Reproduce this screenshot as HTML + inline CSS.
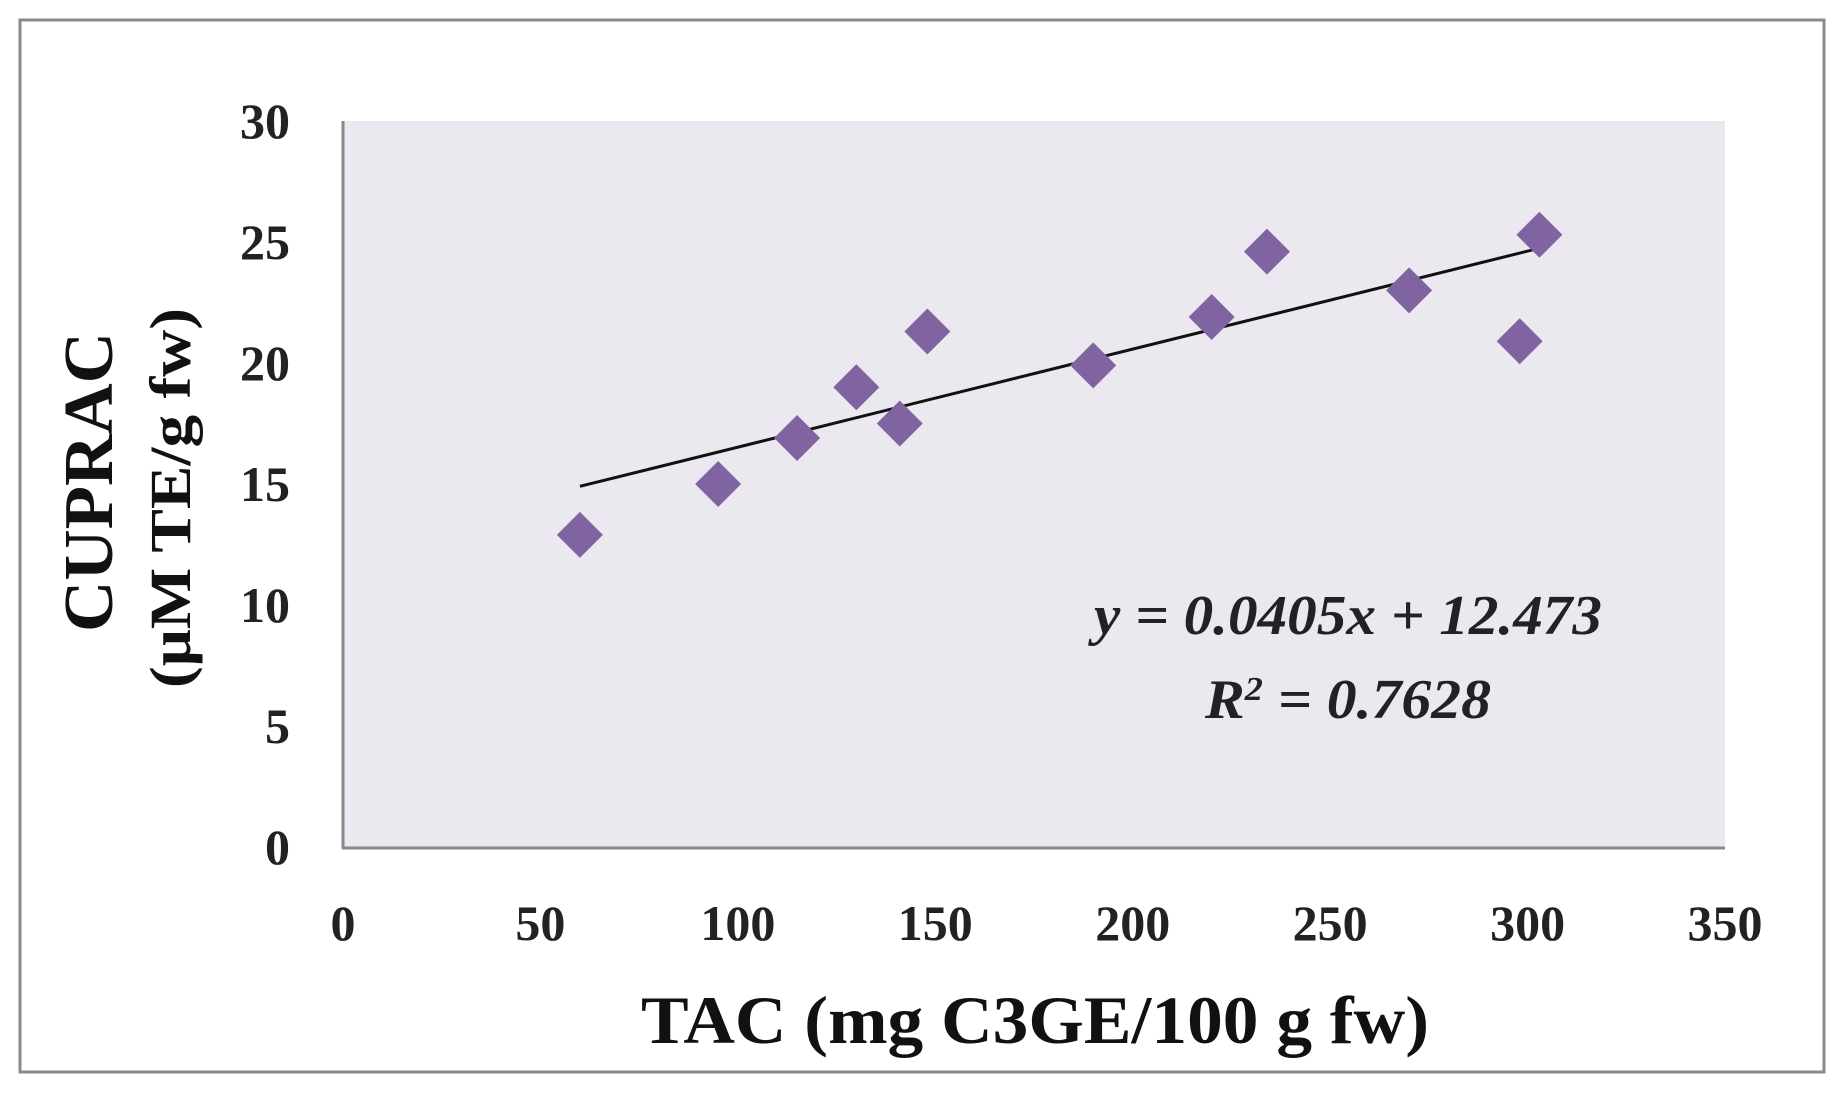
<!DOCTYPE html>
<html><head><meta charset="utf-8"><style>
html,body{margin:0;padding:0;background:#fff;}
svg{display:block;font-family:"Liberation Serif",serif;}
</style></head><body>
<svg width="1843" height="1098" viewBox="0 0 1843 1098">
<rect x="20" y="20" width="1804" height="1052" fill="#fff" stroke="#8a8a8a" stroke-width="3"/>
<rect x="343" y="121" width="1382" height="726" fill="#ebe9ef"/>
<line x1="343" y1="121" x2="343" y2="849" stroke="#8a8a8a" stroke-width="3"/>
<line x1="342" y1="848" x2="1725" y2="848" stroke="#8a8a8a" stroke-width="3"/>
<g id="xt"></g>
<g id="yt"></g>
<g id="trend"></g>
<g id="pts"></g>
<text x="1094" y="634" textLength="508" lengthAdjust="spacingAndGlyphs" font-size="56" font-weight="bold" font-style="italic" fill="#222">y = 0.0405x + 12.473</text>
<text x="1205" y="718" textLength="286" lengthAdjust="spacingAndGlyphs" font-size="56" font-weight="bold" font-style="italic" fill="#222">R<tspan font-size="34" dy="-18">2</tspan><tspan dy="18"> = 0.7628</tspan></text>
<text x="641" y="1043" textLength="788" lengthAdjust="spacingAndGlyphs" font-size="68" font-weight="bold" fill="#111">TAC (mg C3GE/100 g fw)</text>
<text transform="translate(112,632) rotate(-90)" textLength="300" lengthAdjust="spacingAndGlyphs" font-size="70" font-weight="bold" fill="#111">CUPRAC</text>
<text transform="translate(190,688) rotate(-90)" textLength="380" lengthAdjust="spacingAndGlyphs" font-size="58" font-weight="bold" fill="#111">(μM TE/g fw)</text>
</svg>
<script>
const xValues=[60,95,115,130,141,148,190,220,234,270,298,303];
const yValues=[12.9,15,16.9,19,17.5,21.3,19.9,21.9,24.6,23,20.9,25.3];
const xTicks=[0,50,100,150,200,250,300,350];
const yTicks=[0,5,10,15,20,25,30];
const slope=0.0405, intercept=12.473;
const NS='http://www.w3.org/2000/svg';
function sx(v){return 343+v*(1725-343)/350;}
function sy(v){return 847-v*(847-121)/30;}
function mk(t,a){const e=document.createElementNS(NS,t);for(const k in a)e.setAttribute(k,a[k]);return e;}
const xt=document.getElementById('xt');
xTicks.forEach(v=>{const t=mk('text',{x:sx(v),y:940,'text-anchor':'middle','font-size':50,'font-weight':'bold',fill:'#222'});


t.textContent=v;xt.appendChild(t);});
const yt=document.getElementById('yt');
yTicks.forEach(v=>{const t=mk('text',{x:290,y:sy(v)+17,'text-anchor':'end','font-size':50,'font-weight':'bold',fill:'#222'});


t.textContent=v;yt.appendChild(t);});
const x0=Math.min(...xValues),x1=Math.max(...xValues);
const ln=mk('line',{x1:sx(x0),y1:sy(slope*x0+intercept),x2:sx(x1),y2:sy(slope*x1+intercept),stroke:'#111','stroke-width':3});


document.getElementById('trend').appendChild(ln);
const pts=document.getElementById('pts');
xValues.forEach((xv,i)=>{const cx=sx(xv),cy=sy(yValues[i]),r=23;
const p=mk('polygon',{points:`${cx},${cy-r} ${cx+r},${cy} ${cx},${cy+r} ${cx-r},${cy}`,fill:'#8064a2'});


pts.appendChild(p);});
</script>
</body></html>
